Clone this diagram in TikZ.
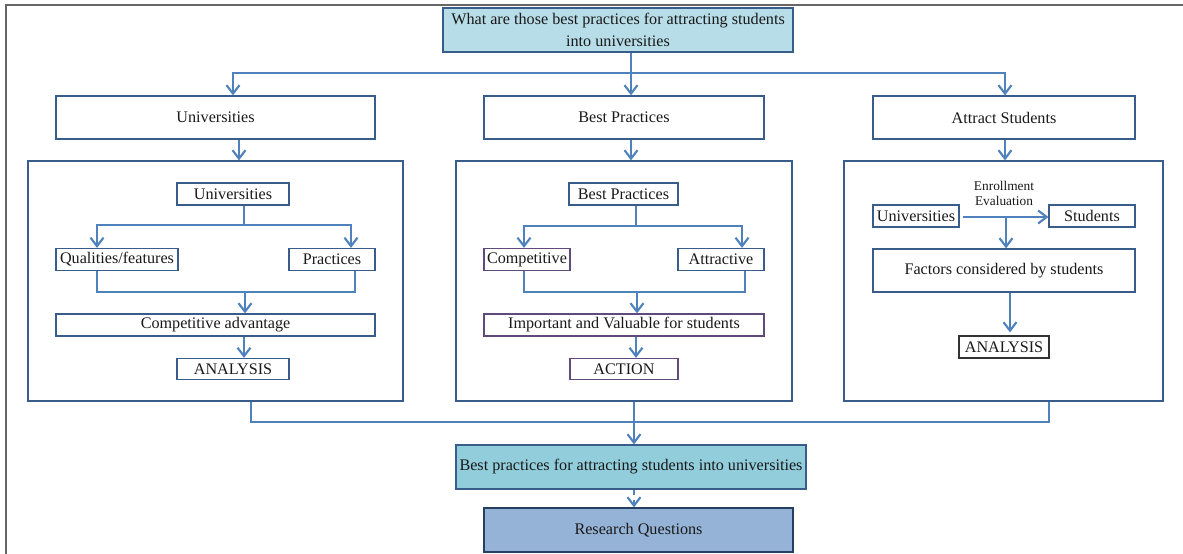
\documentclass[tikz,border=0pt]{standalone}
\usepackage{fontspec}
\setmainfont{Liberation Serif}
\usetikzlibrary{arrows.meta}

\definecolor{boxline}{HTML}{385D8A}
\definecolor{connline}{HTML}{4F81BD}
\definecolor{topfill}{HTML}{B7DDE8}
\definecolor{resfill}{HTML}{92CDDC}
\definecolor{rqfill}{HTML}{95B3D7}
\definecolor{rqline}{HTML}{243F60}
\definecolor{purpline}{HTML}{604A7B}

\tikzset{
    box/.style={rectangle, draw=boxline, line width=0.7pt, inner sep=0pt,
        text=black!90, font=\fontsize{9.2}{12.5}\selectfont, align=center},
    conn/.style={draw=connline, line width=1.6pt},
    arr/.style={conn, -{Straight Barb[length=0.17cm, width=0.26cm, line width=1.2pt]}}
}

\begin{document}
\begin{tikzpicture}[x=0.02cm, y=-0.02cm]
    \useasboundingbox (0,0) rectangle (1183,554);
    \draw[black!60, line width=0.8pt] (1183,5) -- (6,5) -- (6,554);

    \node[box, fill=topfill, minimum width=7cm, minimum height=0.88cm] (q) at (618,30)
        {What are those best practices for attracting students\\ into universities};

    \node[box, minimum width=6.38cm, minimum height=0.86cm] (uni) at (215.5,117.5) {Universities};
    \node[box, minimum width=5.6cm, minimum height=0.86cm] (bp) at (624,117.5) {Best Practices};
    \node[box, minimum width=5.24cm, minimum height=0.86cm] (as) at (1004,117.5) {Attract Students};

    \node[box, minimum width=7.5cm, minimum height=4.8cm] (grpA) at (215.5,281) {};
    \node[box, minimum width=6.72cm, minimum height=4.8cm] (grpB) at (624,281) {};
    \node[box, minimum width=6.38cm, minimum height=4.8cm] (grpC) at (1003.5,281) {};

    % universities
    \node[box, minimum width=2.24cm, minimum height=0.44cm] (a1) at (233,194) {Universities};
    \node[box, minimum width=2.44cm, minimum height=0.44cm] (a2) at (117,259.5) {Qualities/features};
    \node[box, minimum width=1.72cm, minimum height=0.44cm] (a3) at (332,259.5) {Practices};
    \node[box, minimum width=6.38cm, minimum height=0.44cm] (a4) at (215.5,325) {Competitive advantage};
    \node[box, minimum width=2.24cm, minimum height=0.42cm] (a5) at (233,369) {ANALYSIS};

    % best practices
    \node[box, minimum width=2.18cm, minimum height=0.44cm] (b1) at (623.5,194) {Best Practices};
    \node[box, draw=purpline, minimum width=1.72cm, minimum height=0.44cm] (b2) at (527,259.5) {Competitive};
    \node[box, minimum width=1.72cm, minimum height=0.44cm] (b3) at (721,259.5) {Attractive};
    \node[box, draw=purpline, minimum width=5.6cm, minimum height=0.44cm] (b4) at (624,325) {Important and Valuable for students};
    \node[box, draw=purpline, minimum width=2.16cm, minimum height=0.42cm] (b5) at (624,369) {ACTION};

    % attract students
    \node[box, minimum width=1.72cm, minimum height=0.44cm] (c1) at (916,216) {Universities};
    \node[box, minimum width=1.72cm, minimum height=0.44cm] (c2) at (1092,216) {Students};
    \node[box, minimum width=5.24cm, minimum height=0.86cm] (c3) at (1004,270.5) {Factors considered by students};
    \node[box, draw=black!80, minimum width=1.8cm, minimum height=0.44cm] (c4) at (1004,347) {ANALYSIS};
    \node[font=\fontsize{7.6}{8.8}\selectfont, align=center, text=black!90] (lbl) at (1004,193.5) {Enrollment\\ Evaluation};

    \node[box, fill=resfill, minimum width=7cm, minimum height=0.88cm] (r1) at (631,467)
        {Best practices for attracting students into universities};
    \node[box, draw=rqline, fill=rqfill, minimum width=6.18cm, minimum height=0.88cm] (r2) at (638.5,530) {Research Questions};

    % top split
    \coordinate (top) at (631,73);
    \draw[conn] (q.south -| top) -- (top);
    \draw[arr] (top) -| (uni.north -| 233,0);
    \draw[arr] (top) -- (bp.north -| top);
    \draw[arr] (top) -| (as.north -| 1005,0);

    \draw[arr] (uni.south -| 239,0) -- (grpA.north -| 239,0);
    \draw[arr] (bp.south -| 631,0) -- (grpB.north -| 631,0);
    \draw[arr] (as.south -| 1005,0) -- (grpC.north -| 1005,0);

    % inside universities
    \coordinate (ja) at (244,225);
    \coordinate (ja2) at (245,292);
    \draw[conn] (a1.south -| ja) -- (ja);
    \draw[arr] (ja) -| (a2.north -| 97,0);
    \draw[arr] (ja) -| (a3.north -| 351,0);
    \draw[conn] (a2.south -| 97,0) |- (ja2) -| (a3.south -| 355,0);
    \draw[arr] (ja2) -- (a4.north -| ja2);
    \draw[arr] (a4.south -| 244,0) -- (a5.north -| 244,0);

    % inside best practices
    \coordinate (jb) at (636,226);
    \coordinate (jb2) at (637,292);
    \draw[conn] (b1.south -| jb) -- (jb);
    \draw[arr] (jb) -| (b2.north -| 524,0);
    \draw[arr] (jb) -| (b3.north -| 742,0);
    \draw[conn] (b2.south -| 524,0) |- (jb2) -| (b3.south -| 745,0);
    \draw[arr] (jb2) -- (b4.north -| jb2);
    \draw[arr] (b4.south -| 636,0) -- (b5.north -| 636,0);

    % inside attract students
    \coordinate (jc) at (1006,217);
    \draw[arr] ([xshift=0.06cm]c1.east |- jc) -- (c2.west |- jc);
    \draw[arr] (jc) -- (c3.north -| jc);
    \draw[arr] (c3.south -| 1010,0) -- ([yshift=0.06cm]c4.north -| 1010,0);

    % bottom
    \coordinate (jd) at (634,422);
    \draw[conn] (grpA.south -| 251,0) |- (jd);
    \draw[conn] (grpC.south -| 1049,0) |- (jd);
    \draw[conn] (grpB.south -| jd) -- (jd);
    \draw[arr] (jd) -- (r1.north -| jd);
    \draw[arr, dashed] (r1.south -| jd) -- (r2.north -| jd);
\end{tikzpicture}
\end{document}
